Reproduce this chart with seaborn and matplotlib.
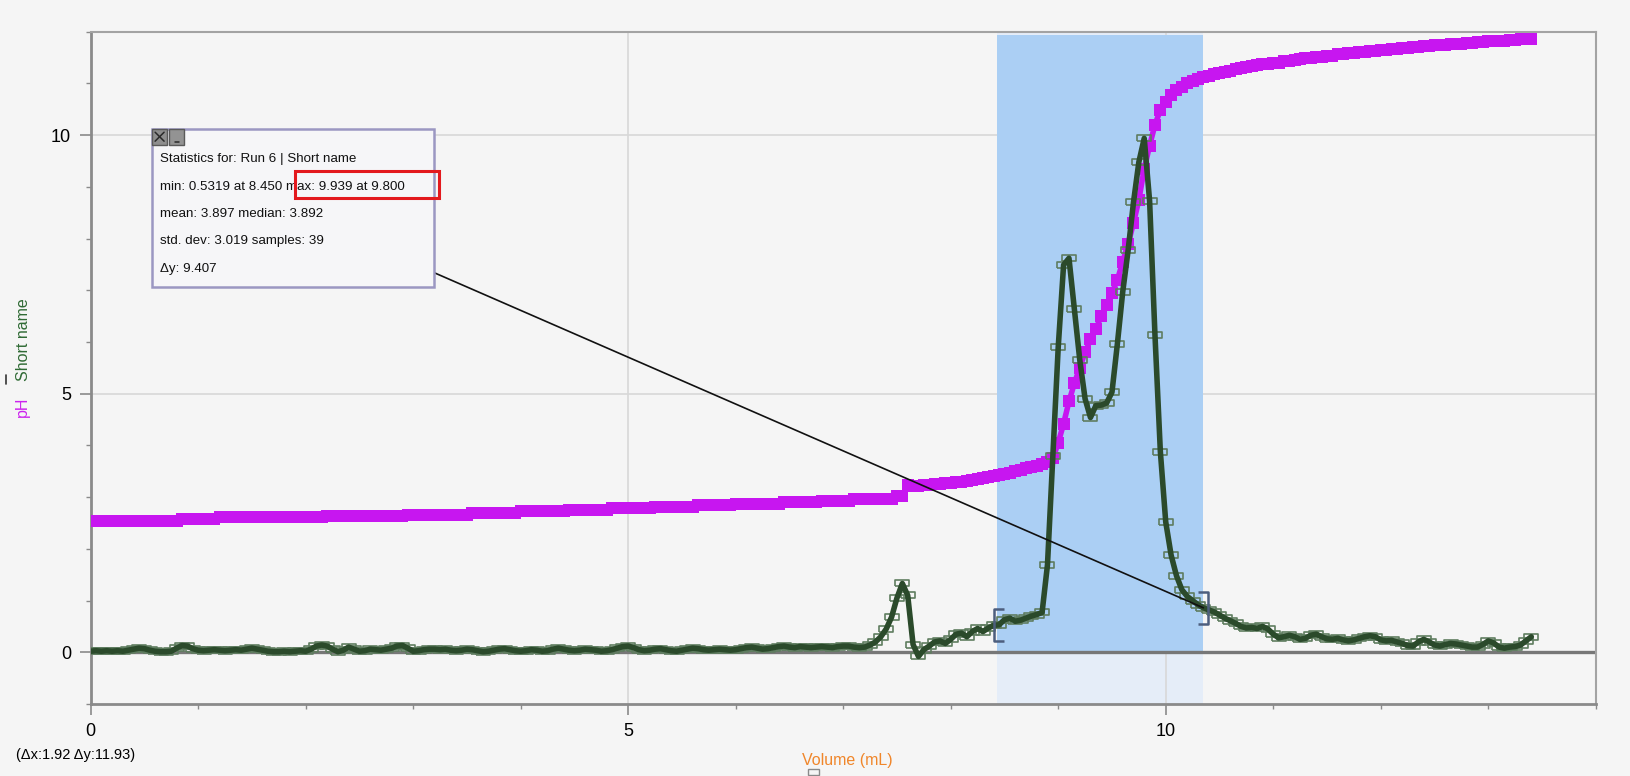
import matplotlib
matplotlib.use("Agg")
import matplotlib.pyplot as plt
import seaborn as sns
from matplotlib.path import Path
from matplotlib.patches import Rectangle
from matplotlib.ticker import MultipleLocator

# Volume (mL), one sample every 0.05 mL
volume = [
    0.00, 0.05, 0.10, 0.15, 0.20, 0.25, 0.30, 0.35, 0.40, 0.45,
    0.50, 0.55, 0.60, 0.65, 0.70, 0.75, 0.80, 0.85, 0.90, 0.95,
    1.00, 1.05, 1.10, 1.15, 1.20, 1.25, 1.30, 1.35, 1.40, 1.45,
    1.50, 1.55, 1.60, 1.65, 1.70, 1.75, 1.80, 1.85, 1.90, 1.95,
    2.00, 2.05, 2.10, 2.15, 2.20, 2.25, 2.30, 2.35, 2.40, 2.45,
    2.50, 2.55, 2.60, 2.65, 2.70, 2.75, 2.80, 2.85, 2.90, 2.95,
    3.00, 3.05, 3.10, 3.15, 3.20, 3.25, 3.30, 3.35, 3.40, 3.45,
    3.50, 3.55, 3.60, 3.65, 3.70, 3.75, 3.80, 3.85, 3.90, 3.95,
    4.00, 4.05, 4.10, 4.15, 4.20, 4.25, 4.30, 4.35, 4.40, 4.45,
    4.50, 4.55, 4.60, 4.65, 4.70, 4.75, 4.80, 4.85, 4.90, 4.95,
    5.00, 5.05, 5.10, 5.15, 5.20, 5.25, 5.30, 5.35, 5.40, 5.45,
    5.50, 5.55, 5.60, 5.65, 5.70, 5.75, 5.80, 5.85, 5.90, 5.95,
    6.00, 6.05, 6.10, 6.15, 6.20, 6.25, 6.30, 6.35, 6.40, 6.45,
    6.50, 6.55, 6.60, 6.65, 6.70, 6.75, 6.80, 6.85, 6.90, 6.95,
    7.00, 7.05, 7.10, 7.15, 7.20, 7.25, 7.30, 7.35, 7.40, 7.45,
    7.50, 7.55, 7.60, 7.65, 7.70, 7.75, 7.80, 7.85, 7.90, 7.95,
    8.00, 8.05, 8.10, 8.15, 8.20, 8.25, 8.30, 8.35, 8.40, 8.45,
    8.50, 8.55, 8.60, 8.65, 8.70, 8.75, 8.80, 8.85, 8.90, 8.95,
    9.00, 9.05, 9.10, 9.15, 9.20, 9.25, 9.30, 9.35, 9.40, 9.45,
    9.50, 9.55, 9.60, 9.65, 9.70, 9.75, 9.80, 9.85, 9.90, 9.95,
    10.00, 10.05, 10.10, 10.15, 10.20, 10.25, 10.30, 10.35, 10.40, 10.45,
    10.50, 10.55, 10.60, 10.65, 10.70, 10.75, 10.80, 10.85, 10.90, 10.95,
    11.00, 11.05, 11.10, 11.15, 11.20, 11.25, 11.30, 11.35, 11.40, 11.45,
    11.50, 11.55, 11.60, 11.65, 11.70, 11.75, 11.80, 11.85, 11.90, 11.95,
    12.00, 12.05, 12.10, 12.15, 12.20, 12.25, 12.30, 12.35, 12.40, 12.45,
    12.50, 12.55, 12.60, 12.65, 12.70, 12.75, 12.80, 12.85, 12.90, 12.95,
    13.00, 13.05, 13.10, 13.15, 13.20, 13.25, 13.30, 13.35, 13.40,
]

ph = [
    2.53, 2.53, 2.53, 2.53, 2.53, 2.53, 2.53, 2.53, 2.53, 2.53,
    2.53, 2.53, 2.53, 2.53, 2.53, 2.53, 2.53, 2.57, 2.57, 2.57,
    2.57, 2.57, 2.57, 2.57, 2.61, 2.61, 2.61, 2.61, 2.61, 2.61,
    2.61, 2.61, 2.61, 2.61, 2.61, 2.61, 2.61, 2.61, 2.61, 2.61,
    2.61, 2.61, 2.61, 2.61, 2.64, 2.64, 2.64, 2.64, 2.64, 2.64,
    2.64, 2.64, 2.64, 2.64, 2.64, 2.64, 2.64, 2.64, 2.64, 2.66,
    2.66, 2.66, 2.66, 2.66, 2.66, 2.66, 2.66, 2.66, 2.66, 2.66,
    2.66, 2.70, 2.70, 2.70, 2.70, 2.70, 2.70, 2.70, 2.70, 2.70,
    2.73, 2.73, 2.73, 2.73, 2.73, 2.73, 2.73, 2.73, 2.73, 2.75,
    2.75, 2.75, 2.75, 2.75, 2.75, 2.75, 2.75, 2.79, 2.79, 2.79,
    2.79, 2.79, 2.79, 2.79, 2.79, 2.81, 2.81, 2.81, 2.81, 2.81,
    2.81, 2.81, 2.81, 2.85, 2.85, 2.85, 2.85, 2.85, 2.85, 2.85,
    2.87, 2.87, 2.87, 2.87, 2.87, 2.87, 2.87, 2.87, 2.87, 2.90,
    2.90, 2.90, 2.90, 2.90, 2.90, 2.90, 2.93, 2.93, 2.93, 2.93,
    2.93, 2.93, 2.97, 2.97, 2.97, 2.97, 2.97, 2.97, 2.97, 2.97,
    3.02, 3.02, 3.24, 3.22, 3.22, 3.24, 3.24, 3.25, 3.25, 3.27,
    3.28, 3.29, 3.30, 3.32, 3.33, 3.35, 3.37, 3.39, 3.41, 3.43,
    3.45, 3.47, 3.50, 3.53, 3.56, 3.58, 3.61, 3.64, 3.68, 3.75,
    4.05, 4.42, 4.85, 5.20, 5.50, 5.80, 6.05, 6.25, 6.50, 6.72,
    6.95, 7.20, 7.55, 7.90, 8.30, 8.75, 9.35, 9.80, 10.20, 10.49,
    10.65, 10.78, 10.87, 10.94, 11.00, 11.05, 11.09, 11.12, 11.15, 11.18,
    11.20, 11.22, 11.25, 11.27, 11.30, 11.32, 11.34, 11.35, 11.37, 11.38,
    11.40, 11.40, 11.43, 11.43, 11.46, 11.47, 11.49, 11.49, 11.52, 11.52,
    11.54, 11.54, 11.57, 11.57, 11.59, 11.59, 11.61, 11.61, 11.63, 11.63,
    11.65, 11.65, 11.67, 11.67, 11.69, 11.69, 11.71, 11.71, 11.72, 11.72,
    11.74, 11.74, 11.75, 11.76, 11.77, 11.77, 11.79, 11.79, 11.80, 11.80,
    11.82, 11.82, 11.83, 11.83, 11.84, 11.84, 11.85, 11.85, 11.86,
]

short_name = [
    0.02, 0.03, 0.02, 0.03, 0.02, 0.03, 0.02, 0.04, 0.06, 0.08,
    0.07, 0.04, 0.02, 0.01, 0.01, 0.02, 0.08, 0.13, 0.12, 0.07,
    0.04, 0.03, 0.04, 0.05, 0.04, 0.03, 0.04, 0.05, 0.04, 0.06,
    0.08, 0.06, 0.04, 0.02, 0.01, 0.01, 0.02, 0.01, 0.02, 0.03,
    0.02, 0.06, 0.12, 0.14, 0.12, 0.06, 0.01, 0.04, 0.10, 0.06,
    0.02, 0.03, 0.06, 0.05, 0.04, 0.06, 0.08, 0.12, 0.13, 0.08,
    0.02, 0.03, 0.05, 0.06, 0.06, 0.05, 0.06, 0.04, 0.03, 0.04,
    0.06, 0.05, 0.03, 0.01, 0.02, 0.04, 0.06, 0.07, 0.05, 0.03,
    0.02, 0.03, 0.05, 0.04, 0.02, 0.03, 0.06, 0.08, 0.06, 0.04,
    0.03, 0.04, 0.06, 0.05, 0.04, 0.02, 0.03, 0.05, 0.08, 0.11,
    0.12, 0.09, 0.05, 0.03, 0.04, 0.06, 0.07, 0.05, 0.03, 0.02,
    0.04, 0.06, 0.08, 0.07, 0.05, 0.04, 0.05, 0.06, 0.05, 0.04,
    0.05, 0.07, 0.09, 0.10, 0.08, 0.06, 0.07, 0.09, 0.11, 0.12,
    0.10, 0.09, 0.11, 0.10, 0.09, 0.10, 0.11, 0.10, 0.09, 0.11,
    0.12, 0.12, 0.10, 0.09, 0.10, 0.14, 0.20, 0.30, 0.45, 0.68,
    1.05, 1.33, 1.10, 0.15, -0.08, 0.05, 0.12, 0.20, 0.22, 0.17,
    0.25, 0.35, 0.37, 0.30, 0.40, 0.46, 0.40, 0.47, 0.52, 0.5319,
    0.63, 0.66, 0.60, 0.62, 0.66, 0.70, 0.73, 0.77, 1.69, 3.80,
    5.90, 7.49, 7.62, 6.63, 5.66, 4.90, 4.54, 4.77, 4.78, 4.82,
    5.03, 5.96, 6.97, 7.77, 8.70, 9.48, 9.939, 8.73, 6.13, 3.88,
    2.52, 1.88, 1.48, 1.21, 1.08, 1.00, 0.92, 0.86, 0.82, 0.78,
    0.72, 0.66, 0.61, 0.56, 0.50, 0.47, 0.48, 0.46, 0.50, 0.45,
    0.35, 0.28, 0.30, 0.33, 0.30, 0.25, 0.27, 0.33, 0.35, 0.30,
    0.26, 0.25, 0.27, 0.24, 0.22, 0.24, 0.27, 0.30, 0.32, 0.30,
    0.24, 0.22, 0.23, 0.20, 0.17, 0.13, 0.12, 0.20, 0.25, 0.20,
    0.14, 0.12, 0.15, 0.17, 0.16, 0.14, 0.12, 0.10, 0.10, 0.15,
    0.22, 0.18, 0.10, 0.08, 0.10, 0.11, 0.14, 0.22, 0.30,
]

# selected region (from the Δx / Δy readout)
sel_start = 8.43
sel_dx = 1.92
sel_dy = 11.93
first_in = 8.45
last_in = 10.35

stats_lines = [
    "Statistics for: Run 6 | Short name",
    "min: 0.5319 at 8.450 max: 9.939 at 9.800",
    "mean: 3.897 median: 3.892",
    "std. dev: 3.019 samples: 39",
    "\u0394y: 9.407",
]

BG = "#f5f5f5"
MAGENTA = "#c716f0"
GREEN = "#2b4a2b"

sns.set_theme(style="white")
plt.rcParams["font.family"] = ["Liberation Sans", "DejaVu Sans"]

fig = plt.figure(figsize=(16.3, 7.76), dpi=100, facecolor=BG)
ax = fig.add_axes([0.0556, 0.0928, 0.9234, 0.8663])
ax.set_facecolor(BG)

# selection shading
ax.axvspan(sel_start, sel_start + sel_dx, color="#e5edf8", zorder=0.5, lw=0)
ax.add_patch(Rectangle((sel_start, 0), sel_dx, sel_dy, facecolor="#abcff4",
                       edgecolor="none", zorder=0.6))

ax.axhline(0, color="#777777", lw=2.4, zorder=1.5)

# pH curve
sns.lineplot(x=volume, y=ph, ax=ax, color=MAGENTA, lw=4, marker="s",
             markersize=8.3, markeredgewidth=0, zorder=3, sort=False)

# Short name data points + line
rect = Path([(-1, -0.42), (1, -0.42), (1, 0.42), (-1, 0.42), (-1, -0.42)])
ax.plot(volume, short_name, ls="none", marker=rect, markersize=9.5,
        markerfacecolor="none", markeredgecolor="#5f7d60", markeredgewidth=1.2,
        zorder=4)
sns.lineplot(x=volume, y=short_name, ax=ax, color=GREEN, lw=4, zorder=5,
             sort=False)

# region brackets
i0 = volume.index(first_in)
i1 = volume.index(last_in)
left_br = Path([(0.3, 1), (-0.3, 1), (-0.3, -1), (0.3, -1)])
right_br = Path([(-0.3, 1), (0.3, 1), (0.3, -1), (-0.3, -1)])
ax.plot([volume[i0]], [short_name[i0]], ls="none", marker=left_br, markersize=23,
        markerfacecolor="none", markeredgecolor="#4d5e7e", markeredgewidth=1.8,
        zorder=6)
ax.plot([volume[i1]], [short_name[i1]], ls="none", marker=right_br, markersize=23,
        markerfacecolor="none", markeredgecolor="#4d5e7e", markeredgewidth=1.8,
        zorder=6)

ax.set_xlim(0, 14)
ax.set_ylim(-1, 12)
ax.xaxis.set_major_locator(MultipleLocator(5))
ax.xaxis.set_minor_locator(MultipleLocator(1))
ax.yaxis.set_major_locator(MultipleLocator(5))
ax.yaxis.set_minor_locator(MultipleLocator(1))
ax.tick_params(which="major", direction="out", length=8, width=1.2,
               color="#8a8a8a", labelsize=13, labelcolor="black", pad=6,
               bottom=True, left=True)
ax.tick_params(which="minor", direction="out", length=3.8, width=1.0,
               color="#8a8a8a", bottom=True, left=True)
ax.grid(True, which="major", color="#d8d8d8", lw=1.2)
for gl in ax.get_xgridlines() + ax.get_ygridlines():
    gl.set_zorder(0.8)

for side in ["left", "bottom"]:
    ax.spines[side].set_color("#8a8a8a")
    ax.spines[side].set_linewidth(2)
for side in ["top", "right"]:
    ax.spines[side].set_color("#a3a3a3")
    ax.spines[side].set_linewidth(1.5)

# axis labels
fig.text(22.9 / 1630, 1 - 407 / 776, "pH", rotation=90, color="#cc22ee",
         fontsize=11.5, ha="center", va="center")
fig.text(24 / 1630, 1 - 340 / 776, "Short name", rotation=90, color="#2f6a34",
         fontsize=11.5, ha="center", va="center")
fig.add_artist(plt.Line2D([6 / 1630, 6 / 1630], [1 - 375 / 776, 1 - 384 / 776],
                          color="#333333", lw=1.2))
fig.text(847 / 1630, 1 - 760 / 776, "Volume (mL)", color="#f0862a",
         fontsize=11.5, ha="center", va="center")
fig.add_artist(Rectangle((808 / 1630, 1 - 775 / 776), 11 / 1630, 6 / 776,
                         transform=fig.transFigure, facecolor="none",
                         edgecolor="#8a8a8a", lw=1))
fig.text(16 / 1630, 1 - 755 / 776, "(\u0394x:%.2f \u0394y:%.2f)" % (sel_dx, sel_dy),
         color="black", fontsize=10.5, ha="left", va="center")

# statistics box
bx0, bx1 = 151.8 / 1630, 433.5 / 1630
by0, by1 = 1 - 286.9 / 776, 1 - 128.9 / 776
fig.add_artist(Rectangle((bx0, by0), bx1 - bx0, by1 - by0, transform=fig.transFigure,
                         facecolor="#f6f6f8", edgecolor="#9b97c2", lw=1.8, zorder=10))
btn_w, btn_h = 15.6 / 1630, 15.6 / 776
fig.add_artist(Rectangle((bx0, by1 - btn_h), btn_w, btn_h, transform=fig.transFigure,
                         facecolor="#8e8e8e", edgecolor="#5a5a5a", lw=1, zorder=11))
fig.add_artist(Rectangle((bx0 + 17.6 / 1630, by1 - btn_h), 14.6 / 1630, btn_h,
                         transform=fig.transFigure, facecolor="#939393",
                         edgecolor="#5a5a5a", lw=1, zorder=11))
cx, cy = bx0 + btn_w / 2, by1 - btn_h / 2
dx, dy = 4.5 / 1630, 4.5 / 776
for sgn in (1, -1):
    fig.add_artist(plt.Line2D([cx - dx, cx + dx], [cy - sgn * dy, cy + sgn * dy],
                              color="#2a2a2a", lw=1.1, zorder=12))
ux = bx0 + 17.6 / 1630 + 7.3 / 1630
fig.add_artist(plt.Line2D([ux - 2 / 1630, ux + 2 / 1630], [cy - 5 / 776, cy - 5 / 776],
                          color="#2a2a2a", lw=1.1, zorder=12))

line_y = [159, 187, 214, 241, 269]
for txt, yy in zip(stats_lines, line_y):
    fig.text(160 / 1630, 1 - yy / 776, txt, fontsize=9.6, color="#111111",
             ha="left", va="center", zorder=12)

fig.add_artist(Rectangle((295.2 / 1630, 1 - 197.5 / 776), (438.7 - 295.2) / 1630,
                         27 / 776, transform=fig.transFigure, facecolor="none",
                         edgecolor="#e3191d", lw=2.2, zorder=13))

# leader line from box to the end of the selection
ax.annotate("", xy=(volume[i1], short_name[i1]), xycoords="data",
            xytext=(bx1, 1 - 272.4 / 776), textcoords="figure fraction",
            arrowprops=dict(arrowstyle="-", color="#111111", lw=1.2,
                            shrinkA=0, shrinkB=0), zorder=9)

fig.savefig("out.png", dpi=100, facecolor=BG)
